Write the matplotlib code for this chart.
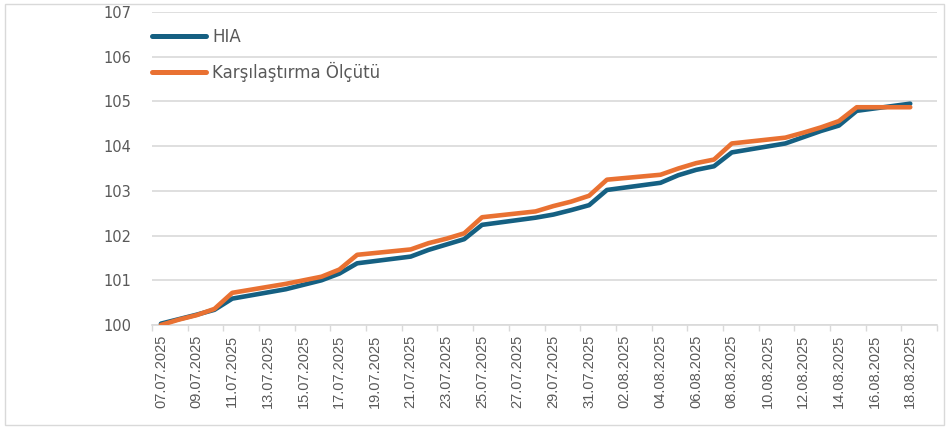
import matplotlib
matplotlib.use("Agg")
import matplotlib.pyplot as plt
import matplotlib.patches as mpatches
import numpy as np
import pandas as pd

# business days (dates) and values
dates = ["07.07.2025", "08.07.2025", "09.07.2025", "10.07.2025", "11.07.2025",
         "14.07.2025", "15.07.2025", "16.07.2025", "17.07.2025", "18.07.2025",
         "21.07.2025", "22.07.2025", "23.07.2025", "24.07.2025", "25.07.2025",
         "28.07.2025", "29.07.2025", "30.07.2025", "31.07.2025", "01.08.2025",
         "04.08.2025", "05.08.2025", "06.08.2025", "07.08.2025", "08.08.2025",
         "11.08.2025", "12.08.2025", "13.08.2025", "14.08.2025", "15.08.2025",
         "18.08.2025"]
hia = [100.03, 100.13, 100.23, 100.34, 100.59,
       100.80, 100.90, 101.00, 101.15, 101.38,
       101.53, 101.68, 101.80, 101.92, 102.24,
       102.40, 102.47, 102.57, 102.68, 103.02,
       103.18, 103.35, 103.47, 103.55, 103.86,
       104.06, 104.20, 104.34, 104.46, 104.79,
       104.95]
bench = [100.00, 100.12, 100.22, 100.36, 100.72,
         100.92, 101.00, 101.08, 101.24, 101.57,
         101.69, 101.83, 101.93, 102.05, 102.41,
         102.54, 102.66, 102.76, 102.89, 103.25,
         103.36, 103.50, 103.62, 103.70, 104.06,
         104.19, 104.30, 104.42, 104.56, 104.87,
         104.87]
series_names = ["HIA", "Karşılaştırma Ölçütü"]
ytick_values = [100, 101, 102, 103, 104, 105, 106, 107]

start = pd.Timestamp(2025, 7, 7)
dt = pd.to_datetime(dates, format="%d.%m.%Y")
xd = np.array([(d - start).days for d in dt])
all_days = pd.date_range(start, pd.Timestamp(2025, 8, 18), freq="D")
label_days = all_days[::2]
label_x = [(d - start).days for d in label_days]
label_txt = [d.strftime("%d.%m.%Y") for d in label_days]

gray = "#595959"
fig = plt.figure(figsize=(9.49, 4.29), dpi=100)
ax = fig.add_axes([152/949, 1 - 325/429, (937-152)/949, (325-12)/429])

blue = "#156082"
orange = "#E97132"
ax.plot(xd, hia, color=blue, lw=3.3, solid_capstyle="round", solid_joinstyle="round",
        label=series_names[0], zorder=3)
ax.plot(xd, bench, color=orange, lw=3.3, solid_capstyle="round", solid_joinstyle="round",
        label=series_names[1], zorder=4)

ax.set_xlim(-0.5, 43.5)
ax.set_ylim(100, 107)
ax.set_yticks(ytick_values)
ax.set_yticklabels([str(v) for v in ytick_values])
ax.set_xticks(label_x)
ax.set_xticklabels(label_txt, rotation=90, fontfamily="Liberation Sans", fontsize=10.5, color=gray)
ax.set_xticks(np.arange(-0.5, 43.6, 2), minor=True)
ax.tick_params(axis="x", which="major", length=0, pad=7)
ax.tick_params(axis="x", which="minor", length=4, color="#D9D9D9", width=1)
ax.tick_params(axis="y", length=0, pad=15, labelcolor=gray, labelsize=10.5)

ax.grid(axis="y", color="#D9D9D9", lw=1.2, zorder=0)
for s in ["left", "right", "top"]:
    ax.spines[s].set_visible(False)
ax.spines["bottom"].set_color("#D9D9D9")
ax.spines["bottom"].set_linewidth(1.2)

leg = ax.legend(loc="upper left", bbox_to_anchor=(-8/785, 1 - 8/313), frameon=False,
                handlelength=3.2, handletextpad=0.4, labelspacing=0.95,
                fontsize=12, borderaxespad=0.2, borderpad=0.3)
for t in leg.get_texts():
    t.set_color(gray)
for h in leg.get_lines():
    h.set_linewidth(3.6)

border = mpatches.Rectangle((5/949, 4/429), 939/949, 421/429, transform=fig.transFigure,
                            fill=False, edgecolor="#D9D9D9", lw=1.0)
fig.patches.append(border)

fig.savefig("out.png", dpi=100)
